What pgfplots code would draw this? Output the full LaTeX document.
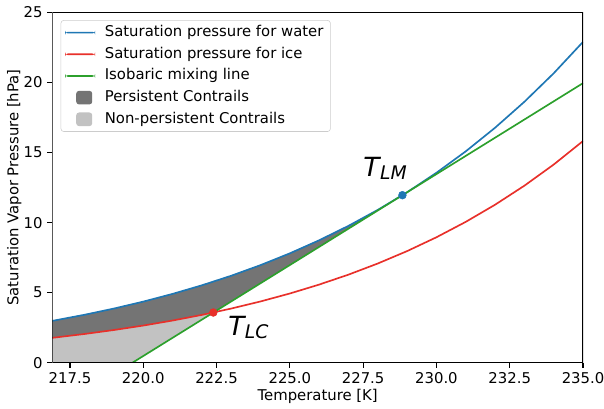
\documentclass[border=0pt]{standalone}
\usepackage{fontspec}
\setmainfont{DejaVu Sans}
\usepackage{pgfplots}
\pgfplotsset{compat=1.18}

\definecolor{cwater}{HTML}{1F77B4}
\definecolor{cice}{HTML}{E8302A}
\definecolor{cmix}{HTML}{2CA02C}
\definecolor{cpers}{HTML}{747474}
\definecolor{cnon}{HTML}{C2C2C2}

\begin{document}
\begin{tikzpicture}
\begin{axis}[
    scale only axis,
    width=382.1pt, height=252.3pt,
    xmin=216.9, xmax=235, ymin=0, ymax=25,
    xtick={217.5,220,222.5,225,227.5,230,232.5,235},
    xticklabels={217.5,220.0,222.5,225.0,227.5,230.0,232.5,235.0},
    ytick={0,5,10,15,20,25},
    yticklabels={0,5,10,15,20,25},
    tick align=outside, tick pos=left,
    major tick length=3.5pt,
    major tick style={line width=0.8pt, black},
    axis line style={draw=none},
    tick label style={font=\fontsize{10.7}{13}\selectfont},
    label style={font=\fontsize{10.7}{13}\selectfont},
    xlabel={Temperature [K]},
    ylabel={Saturation Vapor Pressure [hPa]},
    xlabel style={at={(axis description cs:0.5,0)}, anchor=base, yshift=-27.4pt},
    ylabel style={at={(axis description cs:-0.0717,0.5)}, anchor=center},
    legend cell align=left,
    legend style={at={(0,1)}, anchor=north west, xshift=6pt, yshift=-5.6pt,
        draw=black!20, rounded corners=2pt, fill=white,
        font=\fontsize{10.7}{13}\selectfont,
        inner xsep=3pt, inner ysep=3.5pt, row sep=5pt,
        nodes={text height=8pt, text depth=2.6pt, inner ysep=0pt},
        /tikz/every odd column/.append style={column sep=5pt}},
    linelegend/.style={legend image code/.code={%
        \fill[##1, draw=none] (0pt,-0.62pt) rectangle (21.6pt,0.62pt);}},
    boxlegend/.style={legend image code/.code={%
        \fill[##1, draw=none] (8pt,-4.9pt) rectangle (19.5pt,4.9pt);
        \path[draw=none, fill=none] (0pt,0pt) -- (21.6pt,0pt);}},
]
% contrail regions
\addplot[fill=cpers, draw=none, forget plot] coordinates {
    (216.9,2.992) (217,3.029) (218,3.425) (219,3.868) (220,4.362)
    (221,4.913) (222,5.526) (223,6.208) (224,6.966) (225,7.806)
    (226,8.738) (227,9.768) (228,10.908) (228.84,11.955)
    (222.39,3.584)
    (222,3.415) (221,3.012) (220,2.654) (219,2.336) (218,2.054)
    (217,1.803) (216.9,1.780) (216.9,2.992)
};
\addplot[fill=cnon, draw=none, forget plot] coordinates {
    (216.9,0) (219.63,0) (222.39,3.584)
    (222,3.415) (221,3.012) (220,2.654) (219,2.336) (218,2.054)
    (217,1.803) (216.9,1.780) (216.9,0)
};

% saturation curves
\addplot[color=cwater, line width=1.2pt, forget plot] coordinates {
    (216.9,2.992) (217,3.029) (218,3.425) (219,3.868) (220,4.362)
    (221,4.913) (222,5.526) (223,6.208) (224,6.966) (225,7.806)
    (226,8.738) (227,9.768) (228,10.908) (229,12.166) (230,13.554)
    (231,15.083) (232,16.767) (233,18.619) (234,20.653) (235,22.895)
};
\addplot[color=cice, line width=1.2pt, forget plot] coordinates {
    (216.9,1.780) (217,1.803) (218,2.054) (219,2.336) (220,2.654)
    (221,3.012) (222,3.415) (223,3.867) (224,4.374) (225,4.941)
    (226,5.577) (227,6.287) (228,7.081) (229,7.966) (230,8.953)
    (231,10.052) (232,11.275) (233,12.633) (234,14.142) (235,15.820)
};
\addplot[color=cmix, line width=1.2pt, forget plot] coordinates {
    (219.63,0) (235,19.95)
};

% threshold points
\addplot[only marks, mark=*, mark size=2.8pt, color=cwater, forget plot] coordinates {(228.84,11.955)};
\addplot[only marks, mark=*, mark size=2.8pt, color=cice, forget plot] coordinates {(222.39,3.584)};

\addlegendimage{linelegend, fill=cwater}
\addlegendentry{Saturation pressure for water}
\addlegendimage{linelegend, fill=cice}
\addlegendentry{Saturation pressure for ice}
\addlegendimage{linelegend, fill=cmix}
\addlegendentry{Isobaric mixing line}
\addlegendimage{boxlegend, fill=cpers}
\addlegendentry{Persistent Contrails}
\addlegendimage{boxlegend, fill=cnon}
\addlegendentry{Non-persistent Contrails}

\draw[black, line width=0.8pt] (rel axis cs:0,0) rectangle (rel axis cs:1,1);

\node[anchor=base west, inner sep=0pt, font=\fontsize{19}{22}\selectfont\itshape]
    (tlm) at (axis cs:227.5,13.32) {T};
\node[anchor=base west, inner sep=0pt, font=\fontsize{13.5}{14}\selectfont\itshape]
    at ([yshift=-2.3pt]tlm.base east) {LM};
\node[anchor=base west, inner sep=0pt, font=\fontsize{19}{22}\selectfont\itshape]
    (tlc) at (axis cs:222.89,1.98) {T};
\node[anchor=base west, inner sep=0pt, font=\fontsize{13.5}{14}\selectfont\itshape]
    at ([yshift=-2.3pt]tlc.base east) {LC};
\end{axis}
\pgfresetboundingbox
\path (-37.7pt,-32.6pt) rectangle (397.2pt,261.2pt);
\end{tikzpicture}
\end{document}
